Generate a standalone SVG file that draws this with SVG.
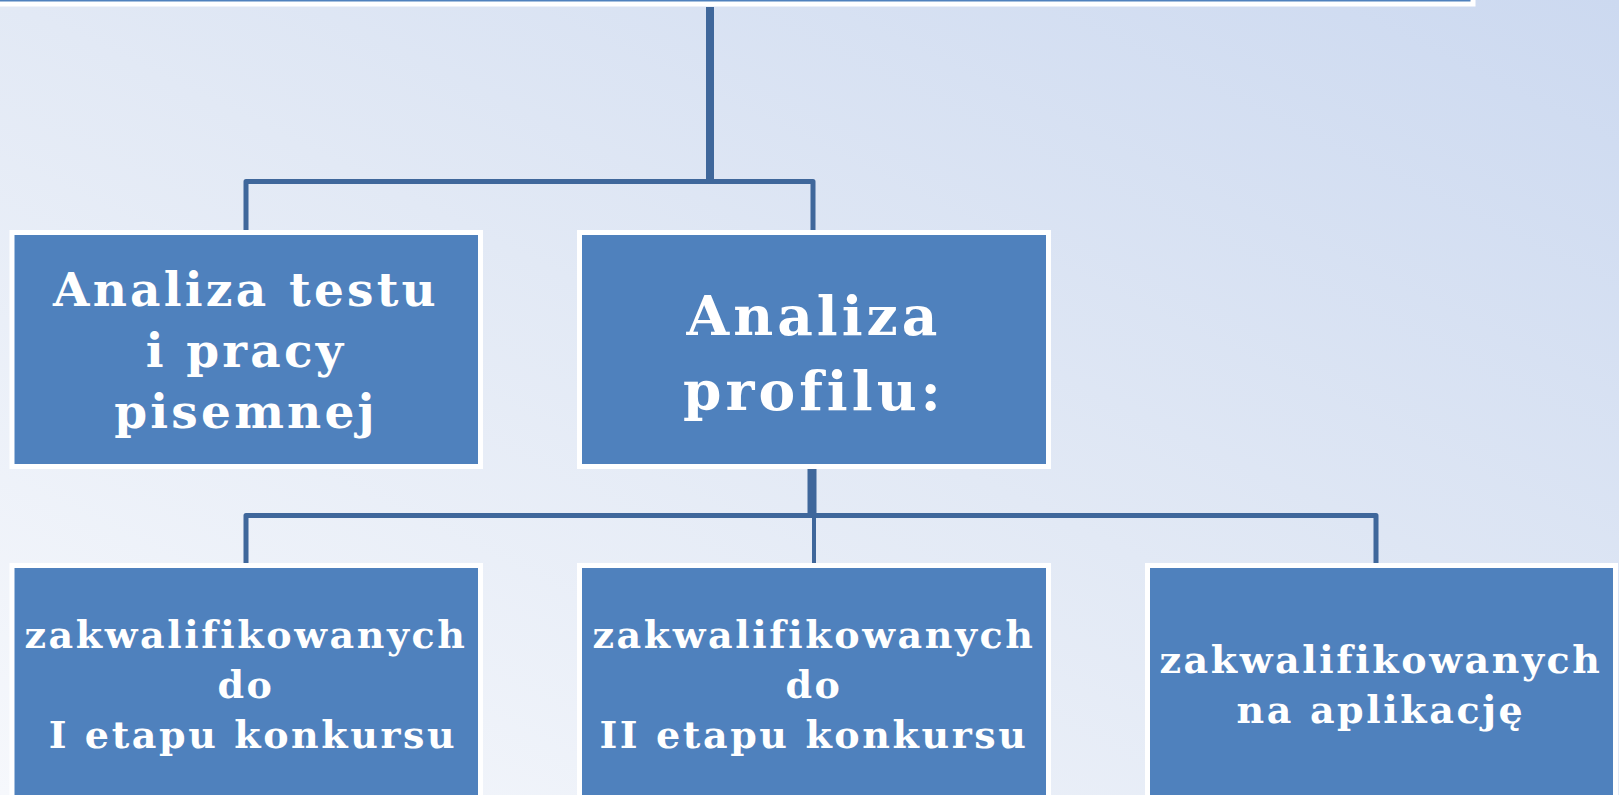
<svg xmlns="http://www.w3.org/2000/svg" width="1619" height="795" viewBox="0 0 1619 795">
  <defs>
    <linearGradient id="bg" x1="0" y1="1" x2="1" y2="0">
      <stop offset="0" stop-color="#f6f8fc"/>
      <stop offset="0.5" stop-color="#e2e9f5"/>
      <stop offset="1" stop-color="#ccd9f0"/>
    </linearGradient>
    <style>
      .box { fill: #4f81bd; stroke: #ffffff; stroke-width: 5; }
      .conn { stroke: #3f679b; fill: none; stroke-linecap: butt; stroke-linejoin: round; }
      .t { font-family: "DejaVu Serif", "Liberation Serif", serif; font-weight: bold; fill: #ffffff; text-anchor: middle; }
      .l2a { font-size: 47px; letter-spacing: 3.2px; }
      .l2b { font-size: 55px; letter-spacing: 4px; }
      .l3 { font-size: 38px; letter-spacing: 2.6px; }
    </style>
  </defs>
  <rect x="0" y="0" width="1619" height="795" fill="url(#bg)"/>

  <g id="connectors">
    <line class="conn" x1="710" y1="7" x2="710" y2="182" stroke-width="8"/>
    <path class="conn" d="M246,231 V181.5 H813 V231" stroke-width="5"/>
    <line class="conn" x1="812" y1="469" x2="812" y2="516" stroke-width="9"/>
    <path class="conn" d="M246,564 V515.5 H1376 V564" stroke-width="5"/>
    <line class="conn" x1="814" y1="516" x2="814" y2="564" stroke-width="4"/>
  </g>

  <g id="top">
    <rect class="box" x="-10" y="-100" width="1483" height="104"/>
  </g>

  <g id="node-test">
    <rect class="box" x="12" y="232.5" width="468.5" height="234"/>
    <text class="t l2a" x="246" y="306">Analiza testu</text>
    <text class="t l2a" x="246" y="367">i pracy</text>
    <text class="t l2a" x="246" y="428">pisemnej</text>
  </g>

  <g id="node-profil">
    <rect class="box" x="579.5" y="232.5" width="469" height="234"/>
    <text class="t l2b" x="814" y="335">Analiza</text>
    <text class="t l2b" x="814" y="410">profilu:</text>
  </g>

  <g id="node-etap1">
    <rect class="box" x="12" y="565.5" width="468.5" height="250"/>
    <text class="t l3" x="246" y="648">zakwalifikowanych</text>
    <text class="t l3" x="246" y="698">do</text>
    <text class="t l3" x="253" y="748">I etapu konkursu</text>
  </g>

  <g id="node-etap2">
    <rect class="box" x="579.5" y="565.5" width="469" height="250"/>
    <text class="t l3" x="814" y="648">zakwalifikowanych</text>
    <text class="t l3" x="814" y="698">do</text>
    <text class="t l3" x="814" y="748">II etapu konkursu</text>
  </g>

  <g id="node-aplikacja">
    <rect class="box" x="1147.5" y="565.5" width="468" height="250"/>
    <text class="t l3" x="1381" y="673">zakwalifikowanych</text>
    <text class="t l3" x="1381" y="723">na aplikację</text>
  </g>
</svg>
